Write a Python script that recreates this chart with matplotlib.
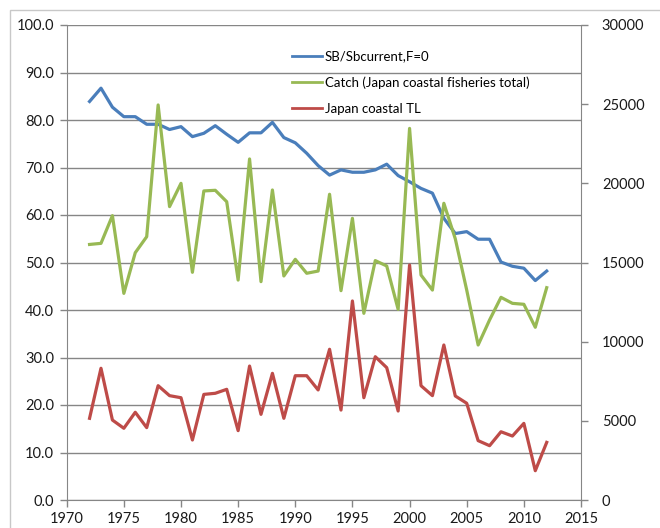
import matplotlib
matplotlib.use("Agg")
import matplotlib.pyplot as plt
from matplotlib.patches import Rectangle

plt.rcParams['font.family'] = ['Lato', 'DejaVu Sans']

years = list(range(1972, 2013))

# SB/Sbcurrent,F=0 (left axis, %)
sb_ratio = [83.9, 86.7, 82.7, 80.7, 80.7, 79.1, 79.1, 78.0, 78.6, 76.5,
            77.2, 78.8, 77.0, 75.3, 77.3, 77.3, 79.5, 76.3, 75.2, 73.0,
            70.4, 68.4, 69.5, 69.0, 69.0, 69.5, 70.7, 68.3, 67.0, 65.6,
            64.6, 59.3, 56.1, 56.5, 54.9, 54.9, 50.1, 49.2, 48.8, 46.2,
            48.2]

# Catch (Japan coastal fisheries total), right axis
catch_total = [16140, 16210, 17960, 13050, 15620, 16630, 24950, 18530, 20000, 14380,
               19520, 19560, 18840, 13890, 21540, 13790, 19580, 14150, 15200, 14320,
               14460, 19310, 13220, 17790, 11790, 15120, 14780, 12040, 23470, 14210,
               13260, 18740, 16500, 13260, 9790, 11370, 12800, 12420, 12360, 10910,
               13410]

# Japan coastal TL, right axis
coastal_tl = [5160, 8320, 5050, 4530, 5540, 4570, 7220, 6590, 6460, 3790,
              6670, 6740, 6990, 4380, 8460, 5410, 8000, 5160, 7850, 7850,
              6950, 9520, 5680, 12570, 6460, 9050, 8360, 5620, 14840, 7220,
              6590, 9790, 6570, 6110, 3750, 3430, 4310, 4040, 4840, 1850,
              3640]

left_ticks = [0, 10, 20, 30, 40, 50, 60, 70, 80, 90, 100]
right_ticks = [0, 5000, 10000, 15000, 20000, 25000, 30000]
x_ticks = [1970, 1975, 1980, 1985, 1990, 1995, 2000, 2005, 2010, 2015]

grey = '#868686'

fig = plt.figure(figsize=(6.6, 5.28), dpi=100)
# chart area border (only left and top edges fall inside the picture)
fig.patches.append(Rectangle((10 / 660, -0.1), 1.2, 1.1 - 10 / 528,
                             transform=fig.transFigure, fill=False,
                             edgecolor='#c8c8c8', linewidth=1.0))
ax = fig.add_axes([66.7 / 660, 28 / 528, (581 - 66.7) / 660, 475 / 528])
ax2 = ax.twinx()

l1, = ax.plot(years, sb_ratio, color='#4A7EBB', lw=2.3, label='SB/Sbcurrent,F=0')
l2, = ax2.plot(years, catch_total, color='#98B954', lw=2.3,
               label='Catch (Japan coastal fisheries total)')
l3, = ax2.plot(years, coastal_tl, color='#BE4B48', lw=2.3, label='Japan coastal TL')

ax.set_xlim(1970, 2015)
ax.set_ylim(0, 100)
ax2.set_ylim(0, 30000)
ax.set_xticks(x_ticks)
ax.set_yticks(left_ticks)
ax.set_yticklabels(['%.1f' % v for v in left_ticks])
ax2.set_yticks(right_ticks)
ax.yaxis.grid(True, color=grey, lw=1.0)
ax.set_axisbelow(True)

for a in (ax, ax2):
    a.spines['top'].set_visible(False)
    for s in ('left', 'right', 'bottom'):
        a.spines[s].set_color(grey)
    a.tick_params(colors=grey, labelcolor='#1a1a1a', labelsize=10.5,
                  length=5, width=1, direction='out')
ax.spines['right'].set_visible(False)
ax2.spines['left'].set_visible(False)
ax2.spines['bottom'].set_visible(False)
ax.tick_params(axis='y', pad=4)
ax2.tick_params(axis='y', pad=10)

leg = ax2.legend(handles=[l1, l2, l3], loc='upper left',
                 bbox_to_anchor=(285 / 660, 1 - 44 / 528),
                 bbox_transform=fig.transFigure, frameon=False, fontsize=9.5,
                 handlelength=2.3, handletextpad=0.2, labelspacing=1.05, borderpad=0)
for h in leg.get_lines():
    h.set_linewidth(2.0)

fig.savefig('out.png', dpi=100)
